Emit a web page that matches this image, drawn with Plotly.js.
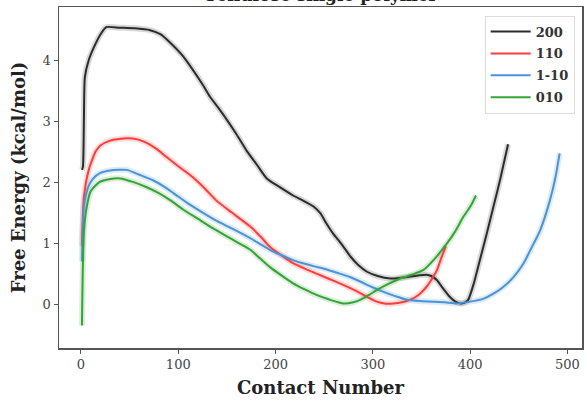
<!DOCTYPE html>
<html>
<head>
<meta charset="utf-8">
<script src="https://cdn.plot.ly/plotly-3.0.1.min.js"></script>
<style>html,body{margin:0;padding:0;background:#fff;}#chart{width:587px;height:401px;}</style>
</head>
<body>
<div id="chart"></div>
<script>
const seriesNames = ["200", "110", "1-10", "010"];
const seriesColors = ["#2b2b2b", "#ff3b3b", "#4a93d4", "#35a335"];

const x200 = [1, 2, 3, 4, 8, 13, 20, 26, 40, 55, 71, 82, 92, 104, 115, 125, 133, 142, 150, 160, 170, 181, 191, 204, 218, 228, 239, 246, 252, 259, 268, 277, 285, 294, 305, 318, 328, 338, 347, 355, 360, 366, 372, 379, 385, 390, 394, 398, 404, 410, 417, 424, 431, 439];
const y200 = [2.2, 2.25, 3.0, 3.72, 4.0, 4.2, 4.42, 4.54, 4.53, 4.52, 4.49, 4.42, 4.28, 4.08, 3.84, 3.6, 3.39, 3.2, 3.02, 2.78, 2.52, 2.28, 2.06, 1.92, 1.78, 1.7, 1.6, 1.49, 1.33, 1.16, 0.98, 0.78, 0.64, 0.53, 0.46, 0.42, 0.43, 0.45, 0.47, 0.48, 0.46, 0.39, 0.26, 0.12, 0.04, 0.01, 0.02, 0.07, 0.35, 0.72, 1.15, 1.6, 2.05, 2.62];

const x110 = [1, 3, 8, 15, 20, 30, 47, 58, 68, 78, 88, 100, 115, 127, 139, 155, 174, 185, 194, 206, 218, 230, 242, 254, 266, 277, 287, 296, 304, 312, 321, 330, 338, 347, 355, 361, 366, 370, 375];
const y110 = [0.95, 1.75, 2.2, 2.5, 2.6, 2.68, 2.72, 2.7, 2.64, 2.54, 2.41, 2.26, 2.08, 1.9, 1.7, 1.5, 1.27, 1.1, 0.94, 0.8, 0.67, 0.58, 0.5, 0.42, 0.34, 0.26, 0.18, 0.1, 0.04, 0.01, 0.01, 0.03, 0.07, 0.15, 0.28, 0.42, 0.56, 0.74, 0.95];

const x1m10 = [1, 3, 7, 12, 20, 30, 47, 60, 74, 85, 95, 110, 125, 140, 155, 174, 194, 206, 218, 230, 242, 254, 266, 277, 287, 299, 311, 323, 335, 348, 362, 374, 386, 400, 414, 424, 434, 445, 455, 463, 472, 482, 488, 492];
const y1m10 = [0.7, 1.6, 1.9, 2.05, 2.15, 2.19, 2.2, 2.12, 2.03, 1.93, 1.82, 1.65, 1.5, 1.36, 1.24, 1.08, 0.89, 0.8, 0.72, 0.66, 0.61, 0.56, 0.5, 0.44, 0.37, 0.28, 0.2, 0.13, 0.07, 0.05, 0.04, 0.03, 0.01, 0.04, 0.09, 0.17, 0.28, 0.45, 0.67, 0.92, 1.21, 1.7, 2.1, 2.47];

const x010 = [1, 3, 6, 10, 19, 30, 40, 54, 67, 80, 92, 105, 120, 135, 150, 162, 174, 184, 194, 206, 218, 230, 242, 256, 270, 280, 287, 296, 304, 316, 328, 340, 352, 364, 376, 385, 393, 401, 406];
const y010 = [-0.35, 1.2, 1.6, 1.85, 2.0, 2.05, 2.06, 2.0, 1.92, 1.82, 1.7, 1.55, 1.4, 1.25, 1.11, 1.0, 0.89, 0.75, 0.61, 0.47, 0.34, 0.24, 0.15, 0.07, 0.01, 0.03, 0.07, 0.15, 0.23, 0.33, 0.42, 0.48, 0.56, 0.75, 0.99, 1.2, 1.43, 1.62, 1.78];

const xTickVals = [0, 100, 200, 300, 400, 500];
const yTickVals = [0, 1, 2, 3, 4];

const xs = [x200, x110, x1m10, x010];
const ys = [y200, y110, y1m10, y010];

const serif = "DejaVu Serif, Liberation Serif, serif";
const traces = [];
for (let i = 0; i < 4; i++) {
  traces.push({
    x: xs[i], y: ys[i], type: "scatter", mode: "lines",
    line: {color: seriesColors[i], width: 6, shape: "spline", smoothing: 0.6},
    opacity: 0.18, showlegend: false, hoverinfo: "skip"
  });
}
for (let i = 0; i < 4; i++) {
  traces.push({
    x: xs[i], y: ys[i], type: "scatter", mode: "lines", name: seriesNames[i],
    legendgroup: "g" + i,
    line: {color: seriesColors[i], width: 2, shape: "spline", smoothing: 0.6}
  });
}

const layout = {
  width: 587, height: 401,
  margin: {l: 59, r: 5, t: 7, b: 53},
  paper_bgcolor: "#fff", plot_bgcolor: "#fff",
  font: {family: serif, color: "#222", size: 13},
  showlegend: true,
  legend: {
    x: 0.986, y: 0.975, xanchor: "right", yanchor: "top",
    bgcolor: "rgba(255,255,255,0.9)", bordercolor: "#dddddd", borderwidth: 1,
    font: {family: serif, size: 13, color: "#333", weight: "bold"},
    tracegroupgap: 2, itemwidth: 40
  },
  xaxis: {
    range: [-22.6, 515], tickvals: xTickVals, ticks: "outside", ticklen: 4, tickcolor: "#555",
    showgrid: false, zeroline: false, showline: true, linecolor: "#555", linewidth: 1.5, mirror: true,
    tickfont: {family: serif, size: 13, color: "#444"},
    title: {text: "Contact Number", font: {family: serif, size: 18, color: "#222", weight: "bold"}, standoff: 10}
  },
  yaxis: {
    range: [-0.72, 4.87], tickvals: yTickVals, ticks: "outside", ticklen: 4, tickcolor: "#555",
    showgrid: false, zeroline: false, showline: true, linecolor: "#555", linewidth: 1.5, mirror: true,
    tickfont: {family: serif, size: 13, color: "#444"},
    title: {text: "Free Energy (kcal/mol)", font: {family: serif, size: 18, color: "#222", weight: "bold"}, standoff: 12}
  },
  annotations: [{
    text: "Cellulose single polymer", xref: "paper", yref: "paper", x: 0.5, y: 1,
    xanchor: "center", yanchor: "bottom", yshift: 1, showarrow: false, borderpad: 0,
    font: {family: serif, size: 17, color: "#222", weight: "bold"}
  }]
};

Plotly.newPlot("chart", traces, layout, {displayModeBar: false, staticPlot: true});
</script>
</body>
</html>
